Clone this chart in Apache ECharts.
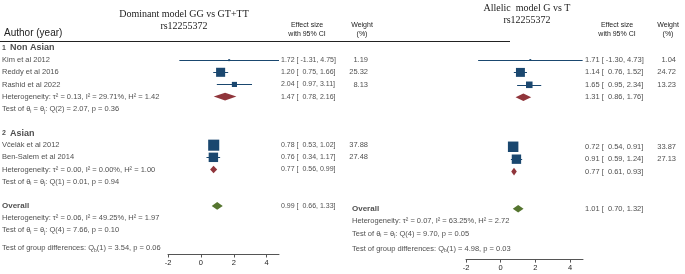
<!DOCTYPE html>
<html>
<head>
<meta charset="utf-8">
<script src="https://cdn.jsdelivr.net/npm/echarts@6/dist/echarts.min.js"></script>
<style>html,body{margin:0;padding:0;background:#fff}#chart{width:685px;height:274px}</style>
</head>
<body>
<div id="chart"></div>
<script>
// studies and subgroups
var studies = ['Kim et al 2012', 'Reddy et al 2016', 'Rashid et al 2022', 'Včelák et al 2012', 'Ben-Salem et al 2014'];
var groups = ['Non Asian', 'Asian'];
var studyRows = [1, 2, 3, 8, 9];
var poolRows = [4, 10, 13];
var tickValues = [-2, 0, 2, 4];

// dominant model GG vs GT+TT
var domES = [1.72, 1.20, 2.04, 0.78, 0.76];
var domLo = [-1.31, 0.75, 0.97, 0.53, 0.34];
var domHi = [4.75, 1.66, 3.11, 1.02, 1.17];
var domWeight = [1.19, 25.32, 8.13, 37.88, 27.48];
var domPoolES = [1.47, 0.77, 0.99];
var domPoolLo = [0.78, 0.56, 0.66];
var domPoolHi = [2.16, 0.99, 1.33];
var domTau2 = [0.13, 0.00, 0.06];
var domI2 = [29.71, 0.00, 49.25];
var domH2 = [1.42, 1.00, 1.97];
var domQdf = [2, 1, 4];
var domQ = [2.07, 0.01, 7.66];
var domQp = [0.36, 0.94, 0.10];
var domGroupDiff = [1, 3.54, 0.06];

// allelic model G vs T
var alES = [1.71, 1.14, 1.65, 0.72, 0.91];
var alLo = [-1.30, 0.76, 0.95, 0.54, 0.59];
var alHi = [4.73, 1.52, 2.34, 0.91, 1.24];
var alWeight = [1.04, 24.72, 13.23, 33.87, 27.13];
var alPoolES = [1.31, 0.77, 1.01];
var alPoolLo = [0.86, 0.61, 0.70];
var alPoolHi = [1.76, 0.93, 1.32];
var alTau2 = 0.07, alI2 = 63.25, alH2 = 2.72;
var alQdf = 4, alQ = 9.70, alQp = 0.05;
var alGroupDiff = [1, 4.98, 0.03];

var NAVY = '#1a476f', MAROON = '#90353b', GREEN = '#55752f', INK = '#222';
var SANS = 'Liberation Sans, Arial, sans-serif';
var SERIF = 'Liberation Serif, Times New Roman, serif';

function f2(v) { return v.toFixed(2); }
function ciText(es, lo, hi) {
  return f2(es) + ' [ ' + (lo < 0 ? '' : ' ') + f2(lo) + ', ' + f2(hi) + ']';
}
function hetText(t, i2, h2) {
  return 'Heterogeneity: τ² = ' + f2(t) + ', I² = ' + f2(i2) + '%, H² = ' + f2(h2);
}
function testText(df, q, p) {
  return '{t|Test of θ}{s|i}{t| = θ}{s|j}{t|: Q(' + df + ') = ' + f2(q) + ', p = ' + f2(p) + '}';
}
function groupText(g) {
  return '{t|Test of group differences: Q}{s|b}{t|(' + g[0] + ') = ' + f2(g[1]) + ', p = ' + f2(g[2]) + '}';
}
function item(x, row, text, alignRight, extra) {
  var lab = { position: alignRight ? 'left' : 'right' };
  if (extra) for (var k in extra) lab[k] = extra[k];
  return { name: text, value: [x, row], label: lab };
}
var bold = { fontWeight: 'bold', fontSize: 8 };
var small = { fontSize: 7 };

// left panel text column
var leftTexts = [];
leftTexts.push(item(2, 0, '{n|1}  {g|' + groups[0] + '}'));
leftTexts.push(item(2, 7, '{n|2}  {g|' + groups[1] + '}'));
studies.forEach(function (s, i) {
  leftTexts.push(item(2, studyRows[i], s));
  leftTexts.push(item(281, studyRows[i], ciText(domES[i], domLo[i], domHi[i]), false, small));
  leftTexts.push(item(368, studyRows[i], f2(domWeight[i]), true));
});
poolRows.forEach(function (r, j) {
  leftTexts.push(item(281, r, ciText(domPoolES[j], domPoolLo[j], domPoolHi[j]), false, small));
  if (j < 2) {
    leftTexts.push(item(2, r, hetText(domTau2[j], domI2[j], domH2[j])));
    leftTexts.push(item(2, r + 1, testText(domQdf[j], domQ[j], domQp[j])));
  }
});
leftTexts.push(item(2, 13, 'Overall', false, bold));
leftTexts.push(item(2, 14, hetText(domTau2[2], domI2[2], domH2[2])));
leftTexts.push(item(2, 15, testText(domQdf[2], domQ[2], domQp[2])));
leftTexts.push(item(2, 16.5, groupText(domGroupDiff)));

// right panel text column
var rightTexts = [];
studies.forEach(function (s, i) {
  rightTexts.push(item(585, studyRows[i], ciText(alES[i], alLo[i], alHi[i])));
  rightTexts.push(item(676, studyRows[i], f2(alWeight[i]), true));
});
poolRows.forEach(function (r, j) {
  rightTexts.push(item(585, r, ciText(alPoolES[j], alPoolLo[j], alPoolHi[j])));
});
rightTexts.push(item(352, 13, 'Overall', false, bold));
rightTexts.push(item(352, 14, hetText(alTau2, alI2, alH2)));
rightTexts.push(item(352, 15, testText(alQdf, alQ, alQp)));
rightTexts.push(item(352, 16.2, groupText(alGroupDiff)));

var textLabel = {
  show: true, distance: 0, color: INK, fontSize: 7.5, fontFamily: SANS,
  formatter: function (p) { return p.name; },
  rich: {
    t: { fontSize: 7.5, color: INK, fontFamily: SANS, lineHeight: 10 },
    s: { fontSize: 5, color: INK, fontFamily: SANS, lineHeight: 6, verticalAlign: 'bottom' },
    n: { fontSize: 7, color: INK, fontFamily: SANS, fontWeight: 'bold' },
    g: { fontSize: 9, color: INK, fontFamily: SANS, fontWeight: 'bold' }
  }
};

function ciData(lo, hi) {
  return lo.map(function (l, i) { return { coords: [[l, studyRows[i]], [hi[i], studyRows[i]]] }; });
}
function sqData(es, w) {
  return es.map(function (e, i) { return [e, studyRows[i], w[i]]; });
}
function diamondData(es, lo, hi) {
  return es.map(function (e, i) { return [e, lo[i], hi[i], poolRows[i]]; });
}
var diamondColors = [MAROON, MAROON, GREEN];
function renderDiamond(params, api) {
  var row = api.value(3);
  var c = api.coord([api.value(0), row]);
  var l = api.coord([api.value(1), row]);
  var r = api.coord([api.value(2), row]);
  var h = 3.8;
  return {
    type: 'polygon',
    shape: { points: [[l[0], c[1]], [c[0], c[1] - h], [r[0], c[1]], [c[0], c[1] + h]] },
    style: { fill: diamondColors[params.dataIndex] }
  };
}

function plotAxis(grid) {
  return {
    gridIndex: grid, type: 'value', min: -2, max: 4.75, position: 'bottom',
    splitLine: { show: false },
    axisLine: { show: true, onZero: false, lineStyle: { color: '#555', width: 1 } },
    axisTick: { show: true, length: 3, customValues: tickValues, lineStyle: { color: '#555' } },
    axisLabel: { customValues: tickValues, fontSize: 7.5, color: INK, fontFamily: SANS, margin: 4 }
  };
}
function rowAxis(grid, max) {
  return { gridIndex: grid, type: 'value', inverse: true, min: 0, max: max, show: false };
}

var chart = echarts.init(document.getElementById('chart'), null, { renderer: 'canvas' });
var option = {
  animation: false,
  backgroundColor: '#fff',
  grid: [
    { left: 0, width: 685, top: 48, height: 206.5, outerBoundsMode: 'none' },
    { left: 168, width: 111, top: 48, height: 206.5, outerBoundsMode: 'none' },
    { left: 0, width: 685, top: 47.6, height: 212, outerBoundsMode: 'none' },
    { left: 466, width: 117, top: 47.6, height: 212, outerBoundsMode: 'none' }
  ],
  xAxis: [
    { gridIndex: 0, type: 'value', min: 0, max: 685, show: false },
    plotAxis(1),
    { gridIndex: 2, type: 'value', min: 0, max: 685, show: false },
    plotAxis(3)
  ],
  yAxis: [rowAxis(0, 17), rowAxis(1, 17), rowAxis(2, 17.1), rowAxis(3, 17.1)],
  graphic: [
    { type: 'text', x: 184, y: 14, style: { text: 'Dominant model GG vs GT+TT', font: '10px ' + SERIF, fill: INK, align: 'center', verticalAlign: 'middle' } },
    { type: 'text', x: 184, y: 26, style: { text: 'rs12255372', font: '10px ' + SERIF, fill: INK, align: 'center', verticalAlign: 'middle' } },
    { type: 'text', x: 527, y: 8, style: { text: 'Allelic  model G vs T', font: '10px ' + SERIF, fill: INK, align: 'center', verticalAlign: 'middle' } },
    { type: 'text', x: 527, y: 20, style: { text: 'rs12255372', font: '10px ' + SERIF, fill: INK, align: 'center', verticalAlign: 'middle' } },
    { type: 'text', x: 4, y: 33, style: { text: 'Author (year)', font: '10px ' + SANS, fill: INK, verticalAlign: 'middle' } },
    { type: 'text', x: 307, y: 25, style: { text: 'Effect size', font: '7px ' + SANS, fill: INK, align: 'center', verticalAlign: 'middle' } },
    { type: 'text', x: 307, y: 34, style: { text: 'with 95% CI', font: '7px ' + SANS, fill: INK, align: 'center', verticalAlign: 'middle' } },
    { type: 'text', x: 362, y: 25, style: { text: 'Weight', font: '7px ' + SANS, fill: INK, align: 'center', verticalAlign: 'middle' } },
    { type: 'text', x: 362, y: 34, style: { text: '(%)', font: '7px ' + SANS, fill: INK, align: 'center', verticalAlign: 'middle' } },
    { type: 'text', x: 617, y: 25, style: { text: 'Effect size', font: '7px ' + SANS, fill: INK, align: 'center', verticalAlign: 'middle' } },
    { type: 'text', x: 617, y: 34, style: { text: 'with 95% CI', font: '7px ' + SANS, fill: INK, align: 'center', verticalAlign: 'middle' } },
    { type: 'text', x: 668, y: 25, style: { text: 'Weight', font: '7px ' + SANS, fill: INK, align: 'center', verticalAlign: 'middle' } },
    { type: 'text', x: 668, y: 34, style: { text: '(%)', font: '7px ' + SANS, fill: INK, align: 'center', verticalAlign: 'middle' } },
    { type: 'line', shape: { x1: 0, y1: 41.5, x2: 510, y2: 41.5 }, style: { stroke: '#222', lineWidth: 1 } }
  ],
  series: [
    { type: 'scatter', xAxisIndex: 0, yAxisIndex: 0, symbolSize: 0, silent: true, data: leftTexts, label: textLabel },
    { type: 'scatter', xAxisIndex: 2, yAxisIndex: 2, symbolSize: 0, silent: true, data: rightTexts, label: textLabel },
    { type: 'lines', coordinateSystem: 'cartesian2d', xAxisIndex: 1, yAxisIndex: 1, silent: true,
      lineStyle: { color: NAVY, width: 1, opacity: 1 }, data: ciData(domLo, domHi) },
    { type: 'lines', coordinateSystem: 'cartesian2d', xAxisIndex: 3, yAxisIndex: 3, silent: true,
      lineStyle: { color: NAVY, width: 1, opacity: 1 }, data: ciData(alLo, alHi) },
    { type: 'scatter', xAxisIndex: 1, yAxisIndex: 1, symbol: 'rect', silent: true,
      symbolSize: function (v) { return Math.sqrt(v[2]) * 1.8; },
      itemStyle: { color: NAVY, opacity: 1 }, data: sqData(domES, domWeight) },
    { type: 'scatter', xAxisIndex: 3, yAxisIndex: 3, symbol: 'rect', silent: true,
      symbolSize: function (v) { return Math.sqrt(v[2]) * 1.8; },
      itemStyle: { color: NAVY, opacity: 1 }, data: sqData(alES, alWeight) },
    { type: 'custom', xAxisIndex: 1, yAxisIndex: 1, silent: true, renderItem: renderDiamond,
      encode: { x: [0, 1, 2], y: 3 }, data: diamondData(domPoolES, domPoolLo, domPoolHi) },
    { type: 'custom', xAxisIndex: 3, yAxisIndex: 3, silent: true, renderItem: renderDiamond,
      encode: { x: [0, 1, 2], y: 3 }, data: diamondData(alPoolES, alPoolLo, alPoolHi) }
  ]
};
chart.setOption(option);
</script>
</body>
</html>
